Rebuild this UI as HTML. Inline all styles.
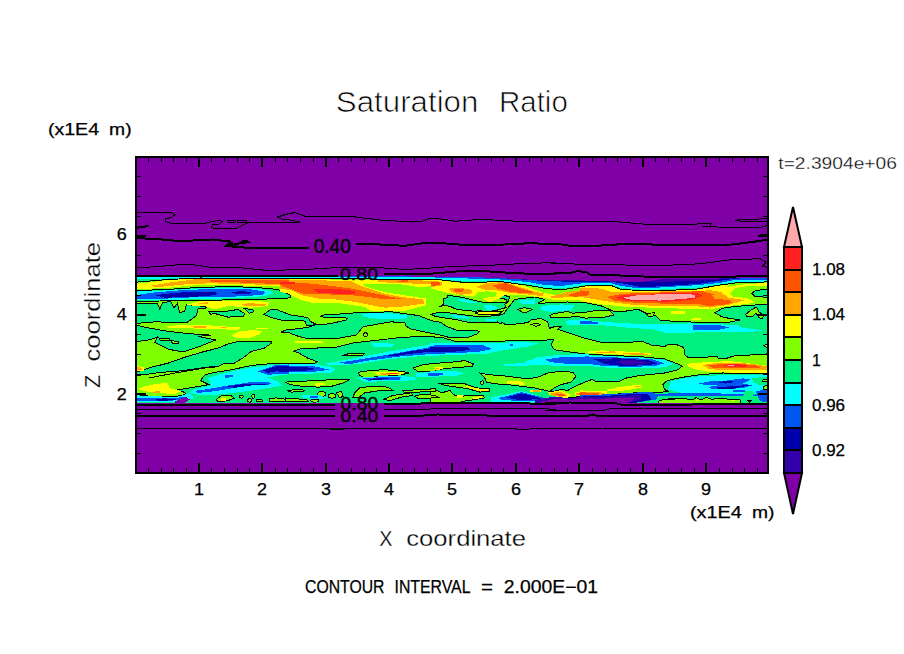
<!DOCTYPE html>
<html><head><meta charset="utf-8"><title>Saturation Ratio</title>
<style>html,body{margin:0;padding:0;background:#fff;width:904px;height:654px;overflow:hidden}body{font-family:"Liberation Sans",sans-serif;position:relative}</style></head>
<body>
<svg width="904" height="654" viewBox="0 0 904 654" style="position:absolute;left:0;top:0">
<rect x="0" y="0" width="904" height="654" fill="#fff"/>
<defs><clipPath id="pc"><rect x="136" y="157" width="632" height="316"/></clipPath></defs>
<g shape-rendering="crispEdges" clip-path="url(#pc)">
<rect x="135" y="156" width="634" height="318" fill="#8000A8"/>
<path d="M137.0 276.0 L767.0 276.0 L767.0 403.0 L137.0 403.0Z" fill="#80FF00"/>
<path d="M136.3 290.6 L168.2 289.4 L201.4 287.3 L234.6 286.6 L259.4 287.8 L277.7 289.4 L284.3 291.9 L290.1 295.2 L290.1 297.7 L285.0 298.5 L234.6 299.9 L201.4 300.2 L159.9 301.0 L136.3 301.5Z" fill="#00F080" stroke="#000" stroke-width="1"/>
<path d="M136.3 303.5 L157.4 303.2 L159.9 309.3 L162.4 302.7 L170.7 301.5 L174.0 307.7 L177.3 303.5 L179.8 312.7 L184.8 311.0 L186.4 304.4 L206.3 306.8 L205.5 308.5 L198.1 308.5 L196.4 315.5 L189.8 320.5 L186.4 322.8 L154.9 321.8 L136.3 323.4Z" fill="#00F080" stroke="#000" stroke-width="1"/>
<path d="M208.8 311.8 L214.6 311.5 L227.9 311.0 L237.9 309.5 L244.5 313.5 L243.7 316.5 L227.9 317.1 L214.6 313.5 L210.5 314.3Z" fill="#00F080" stroke="#000" stroke-width="1"/>
<path d="M244.5 308.8 L252.8 309.3 L253.6 311.8 L249.5 313.2Z" fill="#00F080" stroke="#000" stroke-width="1"/>
<path d="M136.3 325.1 L146.6 327.6 L168.2 331.4 L189.8 333.7 L210.5 335.1 L198.1 336.4 L215.5 340.0 L201.4 345.8 L183.1 352.0 L168.2 349.2 L154.9 342.5 L157.4 337.0 L149.9 339.7 L136.3 341.7Z" fill="#00F080" stroke="#000" stroke-width="1"/>
<path d="M136.3 372.3 L151.6 367.2 L168.2 363.1 L184.8 357.2 L201.4 352.3 L218.0 348.1 L227.9 344.0 L237.9 341.5 L271.1 341.5 L271.9 342.8 L264.4 348.1 L251.2 351.4 L242.9 358.1 L232.9 363.9 L224.6 363.1 L218.0 366.4 L206.3 367.2 L200.0 368.2 L182.5 370.7 L159.9 372.5 L145.0 374.5 L136.3 375.7Z" fill="#00F080" stroke="#000" stroke-width="1"/>
<path d="M263.8 314.4 L270.0 310.0 L277.5 309.8 L282.5 311.9 L292.5 315.6 L300.0 316.2 L308.8 318.1 L310.0 321.2 L315.0 323.8 L312.5 325.6 L306.2 325.0 L305.0 321.2 L296.2 320.0 L281.2 320.0 L271.2 317.5Z" fill="#00F080" stroke="#000" stroke-width="1"/>
<path d="M281.0 332.0 L286.0 330.0 L307.5 327.5 L315.0 325.0 L330.0 323.8 L346.0 320.0 L347.5 318.5 L344.0 317.2 L325.0 317.8 L321.0 316.2 L325.0 314.8 L332.5 314.4 L344.0 313.8 L353.0 313.0 L364.6 312.6 L391.0 311.8 L400.0 313.0 L418.8 315.6 L431.2 320.6 L441.2 322.5 L446.2 326.2 L456.2 330.0 L470.0 330.0 L480.0 331.2 L477.5 333.8 L469.0 337.0 L453.8 337.0 L447.5 337.0 L437.5 334.4 L425.0 332.0 L410.0 328.8 L406.0 326.0 L405.0 323.0 L391.0 321.8 L363.0 326.7 L360.5 330.0 L356.3 335.0 L340.0 338.0 L327.5 338.8 L305.0 338.0 L296.0 335.6 L290.0 333.0Z" fill="#00F080" stroke="#000" stroke-width="1"/>
<path d="M204.7 375.0 L214.6 372.3 L227.9 370.5 L251.1 365.5 L267.7 363.9 L290.0 363.8 L315.0 363.0 L317.5 361.9 L307.5 358.0 L298.8 353.0 L293.8 351.2 L302.5 348.0 L317.5 348.0 L335.0 347.5 L353.0 343.0 L371.5 340.8 L401.0 337.5 L412.5 336.9 L425.0 336.0 L443.8 338.0 L455.0 341.2 L476.5 341.5 L528.0 340.6 L553.6 339.8 L551.0 344.8 L554.4 349.8 L585.0 354.0 L618.0 355.8 L639.7 356.6 L664.6 359.0 L678.0 364.0 L682.0 366.3 L678.0 369.7 L664.6 373.0 L639.7 375.5 L626.5 378.0 L618.0 382.0 L603.0 381.3 L598.0 382.0 L591.6 379.6 L585.0 382.0 L576.0 386.0 L567.7 390.4 L561.0 389.5 L551.0 392.0 L549.4 391.2 L557.7 395.4 L567.7 397.9 L585.0 396.0 L610.0 394.5 L634.8 392.9 L651.3 392.0 L658.0 392.9 L668.0 391.2 L664.6 389.6 L663.0 384.6 L666.3 381.3 L671.3 379.6 L684.5 377.0 L701.0 374.6 L722.7 373.0 L770.0 373.8 L770.0 405.0 L134.0 405.0 L134.0 393.7 L145.0 395.9 L173.2 397.0 L186.4 394.2 L183.1 391.6 L174.8 390.4 L189.8 387.9 L208.8 384.6 L200.5 380.5Z" fill="#00F080" stroke="#000" stroke-width="1"/>
<path d="M440.6 306.2 L443.8 303.8 L443.8 298.8 L447.5 297.5 L447.5 295.6 L456.2 296.2 L465.0 298.0 L475.0 300.6 L485.0 302.5 L497.5 303.0 L507.5 301.9 L506.2 299.4 L500.0 298.0 L497.5 296.2 L501.2 295.0 L507.5 296.2 L509.6 296.9 L508.0 301.9 L504.7 304.3 L506.2 307.5 L497.5 310.0 L487.5 311.9 L480.0 310.6 L475.0 311.2 L465.0 310.6 L455.0 308.8 L450.0 306.2 L445.0 305.6Z" fill="#00F080" stroke="#000" stroke-width="1"/>
<path d="M431.2 314.4 L437.5 312.5 L450.0 313.0 L460.0 314.4 L470.0 315.6 L480.0 316.9 L487.5 316.2 L497.5 315.6 L503.8 313.8 L507.0 309.0 L509.6 306.0 L514.6 299.4 L534.5 296.9 L544.5 299.4 L537.8 303.5 L551.0 302.6 L567.7 302.0 L585.0 302.6 L601.6 306.0 L613.2 311.0 L626.5 311.0 L638.0 309.3 L646.4 313.5 L656.3 316.0 L659.6 320.0 L673.0 321.3 L691.0 322.0 L710.0 322.6 L730.0 322.0 L740.0 320.0 L725.0 317.6 L720.0 315.8 L715.0 312.6 L722.5 308.2 L735.0 306.4 L755.0 305.0 L770.0 304.0 L770.0 353.8 L750.0 355.0 L735.0 355.6 L725.0 358.8 L718.8 358.8 L717.0 356.5 L701.0 357.4 L688.8 358.0 L685.0 355.0 L683.8 347.5 L676.0 344.4 L668.0 344.2 L664.6 346.6 L651.3 345.0 L643.0 341.7 L618.0 342.5 L601.6 342.5 L585.0 338.3 L557.7 329.2 L561.0 326.7 L554.4 326.7 L549.4 328.4 L547.8 321.8 L541.0 318.4 L531.0 320.0 L527.9 322.6 L513.0 324.4 L506.0 325.0 L502.5 322.5 L500.0 323.8 L497.5 321.9 L490.0 323.0 L480.0 322.8 L467.5 322.2 L455.0 319.4 L441.2 317.5 L435.0 316.2Z" fill="#00F080" stroke="#000" stroke-width="1"/>
<path d="M751.9 293.2 L755.0 290.8 L763.8 289.5 L770.0 290.1 L770.0 297.6 L762.5 297.0 L755.0 296.4Z" fill="#00F080" stroke="#000" stroke-width="1"/>
<path d="M159.1 338.0 L169.0 338.4 L169.0 340.4 L159.9 340.0Z" fill="#80FF00" stroke="#000" stroke-width="1"/>
<path d="M170.7 340.7 L179.0 341.4 L178.5 343.3 L172.3 343.0Z" fill="#80FF00" stroke="#000" stroke-width="1"/>
<path d="M216.3 399.6 L221.3 395.7 L231.2 395.9 L234.6 398.2 L227.9 400.6 L218.0 401.9Z" fill="#80FF00" stroke="#000" stroke-width="1"/>
<ellipse cx="241.2" cy="396.6" rx="2.0" ry="1.5" fill="#80FF00" stroke="#000" stroke-width="1"/>
<ellipse cx="253.1" cy="396.2" rx="1.3" ry="2.2" fill="#80FF00" stroke="#000" stroke-width="1"/>
<ellipse cx="249.8" cy="400.4" rx="2.2" ry="1.7" fill="#80FF00" stroke="#000" stroke-width="1"/>
<ellipse cx="259.4" cy="400.7" rx="3.3" ry="1.3" fill="#80FF00" stroke="#000" stroke-width="1"/>
<path d="M269.4 398.7 L276.0 397.9 L285.0 399.2 L289.3 399.6 L289.3 402.0 L269.4 401.5Z" fill="#80FF00" stroke="#000" stroke-width="1"/>
<path d="M549.5 315.5 L554.5 313.5 L567.7 311.5 L572.7 313.2 L585.0 312.3 L598.3 310.2 L609.9 310.5 L614.0 315.1 L601.6 317.6 L585.0 318.1 L576.0 316.0 L567.7 317.6 L551.2 317.6Z" fill="#80FF00" stroke="#000" stroke-width="1"/>
<path d="M475.0 313.1 L480.0 311.2 L487.5 311.9 L500.0 311.9 L503.8 310.6 L498.8 314.4 L487.5 315.0 L480.0 314.4Z" fill="#80FF00" stroke="#000" stroke-width="1"/>
<path d="M518.0 309.3 L524.6 307.7 L532.1 309.3 L527.9 311.8 L522.9 312.7Z" fill="#80FF00" stroke="#000" stroke-width="1"/>
<path d="M531.2 324.3 L537.9 323.1 L540.4 324.8 L536.2 326.4Z" fill="#80FF00" stroke="#000" stroke-width="1"/>
<path d="M646.4 313.5 L654.7 312.7 L653.0 316.0 L648.1 316.0Z" fill="#80FF00" stroke="#000" stroke-width="1"/>
<path d="M745.6 314.5 L750.0 310.8 L755.0 307.6 L757.5 308.2 L758.8 312.0 L763.8 315.1 L762.5 318.9 L758.8 317.6 L756.2 313.2 L752.5 316.4 L747.5 317.0Z" fill="#80FF00" stroke="#000" stroke-width="1"/>
<path d="M763.8 345.8 L770.0 342.6 L770.0 349.2Z" fill="#80FF00" stroke="#000" stroke-width="1"/>
<path d="M358.0 372.2 L371.3 370.5 L384.6 369.7 L401.2 371.3 L409.4 373.0 L401.2 374.7 L384.6 376.3 L364.6 377.7 L359.7 375.5Z" fill="#80FF00" stroke="#000" stroke-width="1"/>
<path d="M412.8 368.0 L422.7 364.7 L435.0 363.4 L451.6 362.2 L464.9 360.6 L473.2 363.9 L472.3 366.4 L451.6 368.0 L435.0 369.7 L435.0 371.7 L417.7 371.3Z" fill="#80FF00" stroke="#000" stroke-width="1"/>
<path d="M342.2 355.8 L349.7 353.3 L364.6 353.6 L363.0 355.0 L351.4 355.8Z" fill="#80FF00" stroke="#000" stroke-width="1"/>
<ellipse cx="365.5" cy="334.7" rx="2.0" ry="2.0" fill="#80FF00" stroke="#000" stroke-width="1"/>
<path d="M479.8 373.0 L488.1 374.7 L501.4 375.5 L514.6 377.2 L527.9 378.8 L537.9 377.2 L547.8 373.0 L559.4 371.3 L572.7 372.2 L576.0 376.3 L571.1 382.1 L561.1 384.6 L554.5 387.9 L549.5 391.3 L534.6 387.9 L521.3 386.3 L508.0 384.6 L494.7 383.8 L486.4 382.1 L484.8 378.0Z" fill="#80FF00" stroke="#000" stroke-width="1"/>
<ellipse cx="482.3" cy="382.6" rx="1.7" ry="1.7" fill="#80FF00" stroke="#000" stroke-width="1"/>
<path d="M438.3 383.0 L464.9 383.8 L476.5 387.9 L489.8 388.8 L489.8 391.3 L479.8 392.1 L468.2 388.8 L445.0 385.5Z" fill="#80FF00" stroke="#000" stroke-width="1"/>
<path d="M430.0 389.6 L435.0 389.6 L441.6 392.9 L449.9 390.4 L453.3 394.6 L458.2 396.2 L483.1 395.4 L484.8 397.9 L474.8 399.6 L463.2 401.2 L461.5 402.0 L430.0 402.0Z" fill="#80FF00" stroke="#000" stroke-width="1"/>
<path d="M285.0 382.1 L301.6 381.3 L326.5 380.0 L349.7 379.3 L343.1 383.0 L331.5 386.3 L318.2 387.1 L301.6 386.3 L290.0 384.6Z" fill="#80FF00" stroke="#000" stroke-width="1"/>
<path d="M286.7 390.4 L301.6 389.3 L304.9 390.9 L291.6 392.1Z" fill="#80FF00" stroke="#000" stroke-width="1"/>
<ellipse cx="321.8" cy="393.9" rx="4.0" ry="2.3" fill="#80FF00" stroke="#000" stroke-width="1"/>
<ellipse cx="332.0" cy="395.9" rx="3.7" ry="2.2" fill="#80FF00" stroke="#000" stroke-width="1"/>
<ellipse cx="314.9" cy="400.6" rx="4.0" ry="1.5" fill="#80FF00" stroke="#000" stroke-width="1"/>
<path d="M285.0 397.9 L295.0 398.7 L306.6 399.6 L308.2 401.5 L285.0 402.0Z" fill="#80FF00" stroke="#000" stroke-width="1"/>
<path d="M336.4 392.9 L341.4 391.3 L343.1 396.2 L339.8 397.9Z" fill="#80FF00" stroke="#000" stroke-width="1"/>
<path d="M354.7 392.9 L359.7 387.9 L371.3 386.3 L387.9 387.1 L392.9 390.4 L377.9 390.9 L364.6 392.9 L358.0 397.9 L353.0 397.1Z" fill="#80FF00" stroke="#000" stroke-width="1"/>
<path d="M382.9 399.6 L392.9 395.4 L411.1 392.9 L412.8 395.4 L401.2 397.1 L391.2 400.4Z" fill="#80FF00" stroke="#000" stroke-width="1"/>
<path d="M402.8 390.9 L417.7 389.6 L435.0 388.8 L435.0 391.3 L417.7 392.1 L404.5 392.6Z" fill="#80FF00" stroke="#000" stroke-width="1"/>
<path d="M414.4 396.2 L422.7 394.2 L435.0 395.4 L439.3 397.9 L417.7 398.2Z" fill="#80FF00" stroke="#000" stroke-width="1"/>
<path d="M658.0 401.5 L664.6 399.1 L677.9 398.7 L667.5 400.0 L682.5 398.1 L692.5 400.0 L696.2 397.5 L701.2 400.0 L706.2 397.5 L712.5 399.4 L718.8 398.1 L730.0 399.4 L740.0 400.0 L741.2 403.1 L658.0 403.9Z" fill="#80FF00" stroke="#000" stroke-width="1"/>
<path d="M747.5 400.0 L751.9 400.0 L749.8 402.1Z" fill="#80FF00" stroke="#000" stroke-width="1"/>
<path d="M220.5 398.2 L226.3 398.2 L226.3 400.6 L220.5 400.6Z" fill="#FFFF00"/>
<path d="M136.3 283.9 L151.6 282.0 L168.2 280.0 L184.8 278.3 L201.4 277.5 L234.6 278.6 L289.3 279.5 L289.3 286.6 L267.7 286.1 L234.6 285.3 L201.4 284.9 L184.8 286.1 L168.2 287.8 L151.6 288.6 L136.3 288.9Z" fill="#FFFF00"/>
<path d="M184.8 305.2 L198.1 301.5 L218.0 300.5 L251.2 301.0 L269.4 301.9 L267.7 306.0 L251.2 307.7 L227.9 306.0 L214.6 309.3 L204.7 306.0Z" fill="#FFFF00"/>
<path d="M166.5 325.9 L184.8 325.1 L209.7 325.4 L241.2 327.6 L237.9 329.7 L209.7 329.2 L184.8 328.1 L168.2 328.1Z" fill="#FFFF00"/>
<path d="M231.2 335.9 L237.9 331.7 L251.2 330.1 L262.8 330.9 L259.4 334.2 L251.2 337.5 L237.9 338.4Z" fill="#FFFF00"/>
<path d="M256.1 328.1 L267.7 328.1 L267.7 329.2 L256.1 329.2Z" fill="#FFFF00"/>
<path d="M136.3 366.4 L144.1 366.7 L144.1 371.0 L136.3 371.0Z" fill="#FFFF00"/>
<path d="M145.0 386.3 L156.6 383.8 L168.2 383.0 L169.0 387.9 L181.5 391.3 L174.8 393.8 L159.9 393.3 L145.0 391.3 L138.3 388.8Z" fill="#FFFF00"/>
<path d="M476.2 313.1 L481.2 311.9 L497.5 312.5 L496.2 314.1 L481.2 314.1Z" fill="#FFFF00"/>
<path d="M374.6 372.2 L404.5 372.5 L401.2 374.7 L377.9 375.0Z" fill="#FFFF00"/>
<path d="M435.0 366.9 L442.5 367.2 L442.5 369.4 L435.0 369.7Z" fill="#FFFF00"/>
<path d="M506.3 381.6 L514.6 380.5 L524.6 382.1 L523.8 384.6 L508.0 384.3Z" fill="#FFFF00"/>
<path d="M529.6 389.6 L541.2 389.6 L541.2 392.1 L530.4 392.1Z" fill="#FFFF00"/>
<path d="M547.8 392.1 L561.1 390.9 L571.1 394.6 L567.7 397.9 L557.8 397.1 L549.5 394.9Z" fill="#FFFF00"/>
<path d="M574.4 392.1 L585.0 390.9 L587.7 396.2 L576.0 396.2Z" fill="#FFFF00"/>
<path d="M464.9 385.5 L476.5 388.3 L488.1 389.3 L488.1 390.9 L479.8 391.3 L468.2 387.9Z" fill="#FFFF00"/>
<path d="M456.6 395.4 L463.2 394.9 L463.2 397.9 L457.4 397.9Z" fill="#FFFF00"/>
<path d="M471.5 397.1 L481.5 396.2 L482.3 398.2 L473.2 399.2Z" fill="#FFFF00"/>
<path d="M314.0 383.8 L324.0 382.6 L324.8 385.0 L315.7 386.0Z" fill="#FFFF00"/>
<path d="M731.2 399.8 L735.0 399.8 L735.0 401.2 L731.2 401.2Z" fill="#FFFF00"/>
<path d="M696.2 400.0 L698.8 400.0 L698.8 401.2 L696.2 401.2Z" fill="#FFFF00"/>
<path d="M280.0 278.6 L359.7 280.0 L363.0 285.3 L371.3 288.6 L387.9 292.7 L426.0 298.5 L426.0 305.2 L404.5 311.0 L371.3 311.0 L364.6 306.8 L334.8 302.7 L314.9 303.5 L301.6 300.2 L288.3 293.6 L280.0 291.9Z" fill="#FFFF00"/>
<path d="M359.7 279.5 L439.3 279.5 L439.3 286.1 L417.7 286.9 L401.2 284.4 L377.9 283.6 L361.3 284.4Z" fill="#FFFF00"/>
<path d="M295.0 340.9 L323.2 340.9 L323.2 342.5 L295.0 342.5Z" fill="#FFFF00"/>
<path d="M431.2 279.5 L460.0 282.8 L487.5 280.9 L510.0 281.5 L522.5 285.2 L543.8 293.0 L555.0 294.9 L572.5 293.0 L586.2 291.8 L586.2 300.8 L572.5 299.9 L555.0 300.2 L543.8 297.8 L522.5 295.1 L505.0 295.1 L497.5 299.2 L490.0 302.4 L483.8 299.2 L485.0 297.8 L495.0 296.8 L497.5 292.8 L487.5 291.2 L477.5 292.5 L476.2 294.9 L472.5 296.8 L447.5 293.0 L431.2 288.6Z" fill="#FFFF00"/>
<path d="M580.0 286.1 L609.9 285.3 L619.8 289.9 L691.2 290.3 L727.7 284.4 L727.7 306.0 L717.7 307.7 L701.2 309.3 L677.9 308.5 L651.4 307.7 L626.5 306.8 L601.6 304.4 L580.0 301.0Z" fill="#FFFF00"/>
<path d="M671.3 311.0 L684.6 311.0 L684.6 314.3 L671.3 314.3Z" fill="#FFFF00"/>
<path d="M691.2 318.5 L701.2 318.5 L701.2 320.1 L691.2 320.1Z" fill="#FFFF00"/>
<path d="M588.3 351.6 L601.6 350.3 L626.5 351.6 L651.4 353.3 L651.4 355.3 L626.5 355.0 L601.6 353.6 L588.3 353.3Z" fill="#FFFF00"/>
<path d="M660.0 290.5 L710.0 289.5 L730.0 286.4 L747.5 283.9 L770.0 283.0 L770.0 286.0 L747.5 286.0 L735.0 288.2 L730.0 293.2 L732.5 296.4 L747.5 298.2 L755.0 302.0 L747.5 303.9 L730.0 305.8 L712.5 308.9 L691.2 307.6 L672.5 307.0 L660.0 308.2Z" fill="#FFFF00"/>
<path d="M672.5 311.4 L683.8 311.4 L683.8 313.9 L672.5 313.9Z" fill="#FFFF00"/>
<path d="M692.5 318.2 L701.2 318.2 L701.2 320.1 L692.5 320.1Z" fill="#FFFF00"/>
<path d="M686.2 363.8 L710.0 361.9 L730.0 361.2 L747.5 363.1 L770.0 366.2 L770.0 372.5 L747.5 372.5 L730.0 372.5 L710.0 371.9 L697.5 370.0 L688.8 366.9Z" fill="#FFFF00"/>
<path d="M606.6 389.6 L618.2 387.1 L639.8 384.6 L643.1 387.1 L626.5 390.4 L608.2 391.3Z" fill="#FFFF00"/>
<path d="M580.0 390.4 L606.6 391.3 L606.6 395.4 L580.0 395.9Z" fill="#FFFF00"/>
<path d="M151.6 285.6 L168.2 282.8 L193.1 279.5 L218.0 278.6 L289.3 279.5 L289.3 285.3 L267.7 284.9 L234.6 283.9 L209.7 283.3 L184.8 284.4 L168.2 286.1 L154.9 287.3Z" fill="#FFA500"/>
<path d="M241.2 303.9 L251.2 303.2 L266.1 304.4 L264.4 306.2 L244.5 306.2Z" fill="#FFA500"/>
<path d="M198.9 302.7 L208.0 302.4 L208.0 304.4 L199.7 304.4Z" fill="#FFA500"/>
<path d="M193.1 326.3 L206.3 325.9 L206.3 327.6 L193.9 327.8Z" fill="#FFA500"/>
<path d="M221.3 326.8 L226.3 326.8 L226.3 327.8 L221.3 327.8Z" fill="#FFA500"/>
<path d="M136.3 367.2 L141.6 367.7 L141.6 369.7 L136.3 370.0Z" fill="#FFA500"/>
<path d="M153.3 391.6 L159.9 391.3 L159.9 392.9 L153.3 392.9Z" fill="#FFA500"/>
<path d="M379.6 372.7 L401.2 372.7 L399.5 374.3 L381.2 374.7Z" fill="#FFA500"/>
<path d="M435.0 367.7 L438.7 367.7 L438.7 368.9 L435.0 369.0Z" fill="#FFA500"/>
<path d="M532.9 390.4 L539.5 390.4 L539.5 391.6 L532.9 391.6Z" fill="#FFA500"/>
<path d="M549.5 392.9 L561.1 392.1 L567.7 395.4 L561.1 397.1 L551.2 395.4Z" fill="#FFA500"/>
<path d="M576.0 392.9 L585.0 392.1 L587.7 395.4 L576.0 395.4Z" fill="#FFA500"/>
<path d="M280.0 279.5 L318.2 280.3 L351.4 281.1 L359.7 285.3 L371.3 289.4 L384.6 293.6 L401.2 296.9 L422.7 299.4 L424.4 303.5 L401.2 306.8 L384.6 307.7 L371.3 305.2 L354.7 301.9 L334.8 299.4 L318.2 298.5 L301.6 295.2 L291.6 290.3 L280.0 288.6Z" fill="#FFA500"/>
<path d="M377.9 280.3 L417.7 280.3 L439.3 281.1 L439.3 284.4 L417.7 283.9 L401.2 282.8 L377.9 282.3Z" fill="#FFA500"/>
<path d="M431.2 280.5 L442.5 282.0 L441.2 285.5 L431.2 287.0Z" fill="#FFA500"/>
<path d="M448.8 288.6 L460.0 287.8 L472.5 289.9 L471.2 293.6 L460.0 294.9 L451.2 291.8Z" fill="#FFA500"/>
<path d="M476.2 286.8 L487.5 283.0 L505.0 282.1 L515.0 285.5 L535.0 291.8 L543.8 293.2 L542.5 296.1 L522.5 293.9 L510.0 293.0 L497.5 290.5 L485.0 289.9Z" fill="#FFA500"/>
<path d="M549.5 296.9 L567.7 291.9 L589.3 289.4 L589.3 296.9 L567.7 296.9 L554.5 298.5Z" fill="#FFA500"/>
<path d="M580.0 287.8 L601.6 288.6 L611.5 291.9 L651.4 291.9 L692.9 291.1 L711.1 290.3 L726.0 295.2 L731.0 300.2 L724.4 304.4 L701.2 306.0 L668.0 306.0 L634.8 305.2 L609.9 301.9 L580.0 296.9Z" fill="#FFA500"/>
<path d="M595.0 352.0 L614.9 351.3 L616.5 353.3 L596.6 353.3Z" fill="#FFA500"/>
<path d="M623.2 353.0 L648.1 353.6 L648.1 355.0 L623.2 354.3Z" fill="#FFA500"/>
<path d="M660.0 291.0 L707.5 290.5 L722.5 292.0 L720.0 297.0 L737.5 298.9 L745.0 300.1 L730.0 304.5 L710.0 307.6 L691.2 305.8 L672.5 305.1 L660.0 306.4Z" fill="#FFA500"/>
<path d="M702.5 365.0 L716.2 363.1 L735.0 362.5 L755.0 364.4 L770.0 366.9 L770.0 370.6 L747.5 370.0 L730.0 370.0 L710.0 369.4Z" fill="#FFA500"/>
<path d="M634.8 385.5 L641.4 385.5 L641.4 387.1 L634.8 387.1Z" fill="#FFA500"/>
<path d="M580.0 391.6 L603.3 392.6 L604.1 394.9 L580.0 395.6Z" fill="#FFA500"/>
<path d="M208.0 280.6 L234.6 279.5 L289.3 280.0 L289.3 283.9 L267.7 283.6 L234.6 282.3 L211.3 281.6Z" fill="#FF5500"/>
<path d="M386.2 372.7 L399.5 372.5 L397.8 374.0 L387.9 374.0Z" fill="#FF5500"/>
<path d="M554.5 393.8 L562.8 393.8 L566.1 395.9 L559.4 396.2Z" fill="#FF5500"/>
<path d="M579.4 393.4 L586.0 392.9 L586.8 394.9 L579.4 394.9Z" fill="#FF5500"/>
<path d="M280.0 282.0 L301.6 282.8 L326.5 285.3 L351.4 288.6 L371.3 292.7 L391.2 296.9 L401.2 298.5 L384.6 299.4 L368.0 296.9 L351.4 295.2 L326.5 294.4 L304.9 294.4 L298.3 291.9 L280.0 285.3Z" fill="#FF5500"/>
<path d="M397.8 280.6 L407.8 280.3 L407.8 282.0 L397.8 282.0Z" fill="#FF5500"/>
<path d="M431.0 282.0 L439.3 282.0 L439.3 285.3 L431.0 285.3Z" fill="#FF5500"/>
<path d="M431.2 281.5 L440.0 282.5 L439.4 285.0 L431.2 286.2Z" fill="#FF5500"/>
<path d="M453.8 289.5 L463.8 289.2 L463.1 291.5 L455.0 291.8Z" fill="#FF5500"/>
<path d="M492.5 285.5 L505.0 283.0 L512.5 285.5 L522.5 289.2 L535.0 292.4 L522.5 293.0 L510.0 291.8 L497.5 288.6Z" fill="#FF5500"/>
<path d="M567.7 295.2 L577.7 291.9 L589.3 290.6 L589.3 295.2 L574.4 296.9Z" fill="#FF5500"/>
<path d="M580.0 290.3 L591.6 291.9 L580.0 294.4Z" fill="#FF5500"/>
<path d="M606.6 296.9 L623.2 293.6 L692.9 292.7 L711.1 293.6 L714.4 298.5 L701.2 303.5 L668.0 303.5 L634.8 302.7 L614.9 301.0Z" fill="#FF5500"/>
<path d="M660.0 291.8 L703.8 291.4 L713.8 294.5 L707.5 298.2 L730.0 300.1 L732.5 302.6 L722.5 305.1 L707.5 305.8 L695.0 303.2 L672.5 303.2 L660.0 304.5Z" fill="#FF5500"/>
<path d="M707.5 365.6 L722.5 363.8 L737.5 363.5 L757.5 365.6 L760.0 367.5 L747.5 368.1 L730.0 368.1 L712.5 367.5Z" fill="#FF5500"/>
<path d="M580.0 392.3 L598.3 392.9 L599.1 394.6 L580.0 395.1Z" fill="#FF5500"/>
<path d="M389.5 372.8 L397.8 372.8 L397.0 373.7 L390.4 373.7Z" fill="#FF2020"/>
<path d="M313.2 289.4 L334.8 288.6 L354.7 291.1 L354.7 293.6 L334.8 293.6 L318.2 292.7Z" fill="#FF2020"/>
<path d="M280.0 282.0 L295.0 282.3 L295.0 283.9 L280.0 283.9Z" fill="#FF2020"/>
<path d="M614.9 297.7 L624.8 294.9 L692.9 293.9 L699.5 296.9 L691.2 300.2 L651.4 301.5 L626.5 300.5Z" fill="#FF2020"/>
<path d="M720.0 365.0 L735.0 364.0 L747.5 365.0 L746.2 366.5 L730.0 366.9Z" fill="#FF2020"/>
<path d="M657.5 292.6 L697.5 292.6 L702.5 295.8 L695.0 298.9 L672.5 301.4 L657.5 302.0Z" fill="#FF2020"/>
<path d="M623.2 297.7 L639.8 294.9 L677.9 293.9 L694.5 295.2 L694.5 297.7 L677.9 299.4 L651.4 300.5 L631.5 299.9Z" fill="#FFAAAA"/>
<path d="M727.5 365.0 L733.8 365.0 L733.8 366.0 L727.5 366.0Z" fill="#FFAAAA"/>
<path d="M657.5 293.9 L691.2 293.9 L695.0 295.8 L691.2 297.6 L672.5 299.5 L657.5 300.8Z" fill="#FFAAAA"/>
<path d="M136.3 291.6 L168.2 290.3 L201.4 288.3 L234.6 287.6 L257.8 288.6 L271.1 291.1 L272.7 293.6 L264.4 296.1 L234.6 298.2 L201.4 299.0 L159.9 300.2 L136.3 300.5Z" fill="#00FFFF"/>
<path d="M208.0 378.0 L221.3 373.8 L230.0 371.9 L248.8 367.8 L267.5 365.4 L305.0 364.8 L330.0 366.5 L336.2 370.0 L317.5 373.0 L282.5 374.8 L267.5 377.5 L277.5 381.2 L282.5 385.6 L267.5 388.1 L255.0 390.0 L242.5 391.9 L230.0 393.1 L218.0 394.6 L201.4 395.4 L189.8 392.9 L193.1 389.6 L211.3 385.5Z" fill="#00FFFF"/>
<path d="M136.3 395.4 L176.5 397.1 L189.8 392.9 L194.7 397.9 L184.8 401.5 L136.3 401.5Z" fill="#00FFFF"/>
<path d="M361.3 314.3 L371.3 313.2 L391.2 313.5 L407.8 315.5 L401.2 318.5 L377.9 318.8 L364.6 317.1Z" fill="#00FFFF"/>
<path d="M400.0 315.0 L406.2 315.6 L407.5 318.1 L400.0 319.4Z" fill="#00FFFF"/>
<path d="M457.5 298.8 L465.0 299.4 L475.0 301.9 L480.0 303.5 L470.0 303.1 L460.0 301.2Z" fill="#00FFFF"/>
<path d="M482.5 305.6 L490.0 305.0 L497.5 306.9 L496.2 309.4 L487.5 309.8Z" fill="#00FFFF"/>
<path d="M280.0 363.6 L318.2 364.4 L334.8 369.7 L331.5 373.0 L301.6 373.8 L280.0 374.3Z" fill="#00FFFF"/>
<path d="M323.2 363.9 L351.4 358.9 L384.6 352.3 L417.7 346.5 L439.3 343.5 L439.3 355.6 L417.7 356.4 L384.6 359.7 L359.7 363.9 L334.8 365.5Z" fill="#00FFFF"/>
<path d="M371.3 343.5 L384.6 342.8 L394.5 344.5 L391.2 347.3 L374.6 346.8Z" fill="#00FFFF"/>
<path d="M356.3 378.0 L384.6 376.0 L414.4 376.7 L416.1 379.6 L401.2 381.3 L364.6 381.6Z" fill="#00FFFF"/>
<path d="M414.4 373.0 L439.3 371.7 L439.3 376.7 L417.7 377.2Z" fill="#00FFFF"/>
<path d="M301.6 395.4 L318.2 394.9 L328.1 397.9 L318.2 399.2 L303.3 397.9Z" fill="#00FFFF"/>
<path d="M430.0 343.5 L484.8 342.8 L527.9 342.3 L537.9 343.5 L527.9 346.5 L501.4 350.6 L484.8 353.9 L430.0 355.6Z" fill="#00FFFF"/>
<path d="M524.6 362.2 L537.9 357.2 L561.1 354.8 L589.3 353.9 L589.3 366.4 L551.2 365.5 L527.9 364.7Z" fill="#00FFFF"/>
<path d="M503.0 363.9 L527.9 363.1 L527.9 365.5 L504.7 365.7Z" fill="#00FFFF"/>
<path d="M430.0 370.5 L454.9 371.0 L464.9 373.0 L454.9 376.0 L430.0 376.7Z" fill="#00FFFF"/>
<path d="M491.4 397.1 L509.7 393.8 L521.3 390.9 L534.6 394.6 L542.9 397.9 L541.2 401.5 L491.4 401.5Z" fill="#00FFFF"/>
<path d="M580.0 319.3 L601.6 321.8 L626.5 323.4 L659.7 324.3 L691.2 323.4 L739.3 325.1 L739.3 330.9 L691.2 332.6 L668.0 333.4 L651.4 329.2 L626.5 327.6 L601.6 325.1 L580.0 325.1Z" fill="#00FFFF"/>
<path d="M660.0 327.0 L672.5 324.5 L691.2 323.9 L710.0 324.5 L730.0 325.8 L747.5 328.2 L763.8 330.8 L747.5 332.0 L710.0 332.0 L672.5 333.2 L663.8 332.0Z" fill="#00FFFF"/>
<path d="M519.6 300.2 L534.6 299.4 L534.6 303.5 L521.3 304.4Z" fill="#00FFFF"/>
<path d="M541.2 306.0 L561.1 304.4 L574.4 305.2 L571.1 310.2 L551.2 311.8 L541.2 310.2Z" fill="#00FFFF"/>
<path d="M450.0 315.0 L460.0 315.6 L470.0 316.9 L467.5 318.5 L455.0 317.5Z" fill="#00FFFF"/>
<path d="M485.0 318.5 L497.5 319.0 L496.2 320.8 L486.2 320.5Z" fill="#00FFFF"/>
<path d="M564.4 320.9 L585.0 319.3 L589.3 321.8 L585.0 325.1 L567.7 324.8Z" fill="#00FFFF"/>
<path d="M580.0 355.0 L618.2 356.6 L639.8 357.5 L664.6 359.9 L672.9 364.1 L664.6 367.4 L634.8 368.2 L601.6 367.4 L580.0 364.9Z" fill="#00FFFF"/>
<path d="M668.0 389.6 L671.3 381.3 L684.6 378.0 L701.2 376.0 L730.0 375.0 L770.0 374.8 L770.0 395.0 L747.5 396.2 L710.0 395.0 L685.0 393.8 L670.0 390.0Z" fill="#00FFFF"/>
<path d="M136.3 295.2 L151.6 292.7 L184.8 289.9 L218.0 288.9 L251.2 289.4 L266.1 291.9 L262.8 294.9 L234.6 296.6 L201.4 296.9 L168.2 298.5 L145.0 299.4 L136.3 298.5Z" fill="#0055F0"/>
<path d="M194.7 390.9 L209.7 388.8 L227.9 385.5 L251.2 382.1 L272.7 382.6 L267.7 385.0 L251.2 385.5 L234.6 387.9 L214.6 391.3 L198.1 392.9Z" fill="#0055F0"/>
<path d="M257.8 371.3 L274.4 365.5 L289.3 364.4 L289.3 373.8 L267.7 374.7Z" fill="#0055F0"/>
<path d="M224.6 375.5 L232.9 375.0 L233.2 377.3 L225.4 377.7Z" fill="#0055F0"/>
<path d="M136.3 397.9 L168.2 398.2 L184.8 397.1 L183.1 400.4 L136.3 400.9Z" fill="#0055F0"/>
<path d="M280.0 365.5 L314.9 366.4 L329.8 369.7 L314.9 371.7 L280.0 372.7Z" fill="#0055F0"/>
<path d="M336.4 363.1 L368.0 358.1 L401.2 352.3 L439.3 345.6 L439.3 353.4 L401.2 356.4 L368.0 360.6 L351.4 363.9Z" fill="#0055F0"/>
<path d="M363.0 378.3 L384.6 377.0 L401.2 377.3 L399.5 379.6 L368.0 380.6Z" fill="#0055F0"/>
<path d="M427.7 373.0 L439.3 372.7 L439.3 375.5 L427.7 375.5Z" fill="#0055F0"/>
<path d="M309.9 396.2 L318.2 396.2 L318.2 397.6 L309.9 397.6Z" fill="#0055F0"/>
<path d="M430.0 345.6 L481.5 344.5 L492.2 348.9 L481.5 351.4 L459.9 353.1 L430.0 353.9Z" fill="#0055F0"/>
<path d="M509.7 344.0 L513.0 344.0 L513.0 345.6 L509.7 345.6Z" fill="#0055F0"/>
<path d="M544.5 359.7 L561.1 357.2 L589.3 356.4 L589.3 363.9 L567.7 363.9 L551.2 362.2Z" fill="#0055F0"/>
<path d="M430.0 373.0 L442.5 373.0 L442.5 375.0 L430.0 375.0Z" fill="#0055F0"/>
<path d="M498.1 397.9 L509.7 395.4 L521.3 392.1 L534.6 395.4 L547.8 398.7 L541.2 400.4 L518.0 401.2 L501.4 399.6Z" fill="#0055F0"/>
<path d="M580.0 320.9 L598.3 321.8 L598.3 323.8 L580.0 323.8Z" fill="#0055F0"/>
<path d="M692.9 325.1 L717.7 324.8 L729.4 327.6 L717.7 330.1 L692.9 330.4Z" fill="#0055F0"/>
<path d="M692.5 325.8 L707.5 325.1 L730.0 327.6 L720.0 329.5 L695.0 330.1Z" fill="#0055F0"/>
<path d="M580.0 356.6 L618.2 357.5 L651.4 359.1 L664.6 363.3 L654.7 366.2 L626.5 366.9 L601.6 365.8 L580.0 362.4Z" fill="#0055F0"/>
<path d="M655.0 393.8 L685.0 393.1 L710.0 393.5 L747.5 394.4 L770.0 393.8 L770.0 396.2 L655.0 396.2Z" fill="#0055F0"/>
<path d="M757.5 395.0 L770.0 393.8 L770.0 402.5 L760.0 401.2Z" fill="#0055F0"/>
<path d="M580.0 395.4 L609.9 394.2 L634.8 392.6 L651.4 391.8 L658.0 395.4 L656.3 399.6 L634.8 402.9 L580.0 402.9Z" fill="#0055F0"/>
<path d="M154.9 295.2 L176.5 292.7 L204.7 291.6 L218.0 292.7 L214.6 295.2 L193.1 296.9 L164.9 297.7Z" fill="#0000AA"/>
<path d="M231.2 292.2 L241.2 291.1 L251.2 291.9 L249.5 293.9 L237.9 294.4Z" fill="#0000AA"/>
<path d="M227.9 386.6 L241.2 384.3 L264.4 383.5 L266.1 384.6 L251.2 385.5 L234.6 387.9Z" fill="#0000AA"/>
<path d="M262.8 370.5 L276.0 366.4 L289.3 365.5 L289.3 372.2 L276.0 371.3 L267.7 373.0Z" fill="#0000AA"/>
<path d="M154.9 398.7 L166.5 398.4 L176.5 399.6 L164.9 400.9 L156.6 400.6Z" fill="#0000AA"/>
<path d="M280.0 367.2 L306.6 367.2 L316.5 368.9 L306.6 370.5 L280.0 371.3Z" fill="#0000AA"/>
<path d="M387.9 355.6 L409.4 351.4 L439.3 347.5 L439.3 350.8 L409.4 353.9 L392.9 356.4Z" fill="#0000AA"/>
<path d="M368.0 378.7 L384.6 378.0 L391.2 379.0 L371.3 380.1Z" fill="#0000AA"/>
<path d="M430.0 347.3 L468.2 347.3 L469.8 349.8 L459.9 351.4 L430.0 352.3Z" fill="#0000AA"/>
<path d="M506.3 397.6 L521.3 393.3 L534.6 396.2 L542.9 399.2 L518.0 399.9Z" fill="#0000AA"/>
<path d="M593.3 359.1 L618.2 358.3 L648.1 360.3 L658.0 363.3 L648.1 365.3 L621.5 365.8 L604.9 364.1Z" fill="#0000AA"/>
<path d="M580.0 396.6 L609.9 395.6 L634.8 393.9 L648.1 393.9 L651.4 399.6 L634.8 402.9 L580.0 402.9Z" fill="#0000AA"/>
<path d="M534.6 399.9 L551.2 397.1 L572.7 397.9 L589.3 396.2 L589.3 403.7 L534.6 403.7Z" fill="#3300AA"/>
<path d="M614.9 360.8 L634.8 359.9 L651.4 362.4 L643.1 364.6 L623.2 364.6Z" fill="#3300AA"/>
<path d="M580.0 397.6 L601.6 397.1 L626.5 395.9 L641.4 394.9 L641.4 399.6 L624.8 403.2 L580.0 403.2Z" fill="#3300AA"/>
<path d="M174.8 401.2 L186.4 397.1 L189.8 399.6 L184.8 402.9 L174.8 403.2Z" fill="#8000A8"/>
<path d="M541.2 401.5 L554.5 399.2 L572.7 399.6 L589.3 398.7 L589.3 403.7 L541.2 403.7Z" fill="#8000A8"/>
<path d="M580.0 399.2 L601.6 398.7 L626.5 397.6 L634.8 397.9 L631.5 401.2 L624.8 403.7 L580.0 403.7Z" fill="#8000A8"/>
<path d="M751.9 378.3 L759.0 377.4 L767.9 376.9 L767.9 385.8 L760.8 385.4 L753.7 382.7Z" fill="#00F080"/>
<path d="M744.9 391.5 L751.9 390.7 L755.5 394.2 L751.9 396.0 L743.1 395.5Z" fill="#00F080"/>
<path d="M694.4 393.1 L707.7 392.6 L721.0 393.5 L720.1 394.7 L695.3 394.6Z" fill="#0055F0"/>
<path d="M732.5 390.2 L744.9 390.0 L744.9 391.5 L732.5 391.5Z" fill="#0055F0"/>
<path d="M755.5 390.7 L767.9 390.2 L767.9 394.2 L757.3 394.2Z" fill="#0055F0"/>
<path d="M698.8 383.6 L712.1 380.9 L727.2 380.5 L743.1 378.3 L750.2 379.6 L743.1 383.6 L751.9 385.4 L743.1 388.0 L725.4 389.3 L712.1 388.9 L707.7 387.1 L721.0 384.9 L703.3 384.5Z" fill="#0055F0"/>
<path d="M718.3 382.3 L727.2 380.9 L736.0 381.8 L725.4 383.6Z" fill="#0000AA"/>
<path d="M715.7 387.6 L734.2 385.8 L750.2 385.2 L734.2 388.5 L719.2 389.1Z" fill="#0000AA"/>
<path d="M762.6 380.0 L767.9 379.9 L767.9 381.5 L763.0 381.5Z" fill="#80FF00" stroke="#000" stroke-width="1"/>
<path d="M763.5 386.2 L767.9 385.5 L767.9 389.4 L763.9 389.1Z" fill="#80FF00" stroke="#000" stroke-width="1"/>
<path d="M149.1 378.0 L168.2 374.3 L184.8 371.3 L204.7 368.0 L214.6 367.7" fill="none" stroke="#000" stroke-width="1"/>
<path d="M134.0 270.0 L770.0 270.0 L770.0 281.8 L735.0 283.0 L719.0 285.2 L697.0 289.0 L660.0 290.8 L640.0 290.5 L621.0 289.4 L610.0 285.0 L585.0 286.0 L561.0 290.0 L545.0 288.3 L528.0 285.3 L500.0 281.5 L468.0 282.8 L435.0 279.3 L285.0 278.6 L200.0 278.0 L168.0 279.5 L134.0 282.3Z" fill="#00F080"/>
<path d="M134.0 270.0 L770.0 270.0 L770.0 281.4 L735.0 282.0 L719.0 284.5 L697.0 287.6 L660.0 289.5 L640.0 289.5 L621.0 288.0 L610.0 284.5 L585.0 285.0 L561.0 288.5 L545.0 287.5 L528.0 284.5 L500.0 281.0 L468.0 281.5 L435.0 279.0 L285.0 278.3 L200.0 277.5 L168.0 278.5 L134.0 279.5Z" fill="#00FFFF"/>
<path d="M134.0 270.0 L770.0 270.0 L770.0 279.5 L735.0 280.0 L719.0 283.0 L697.0 285.2 L660.0 287.5 L640.0 288.5 L621.0 286.0 L610.0 283.0 L585.0 283.0 L561.0 286.0 L545.0 285.0 L528.0 282.0 L500.0 279.5 L468.0 278.5 L435.0 277.5 L285.0 277.0 L200.0 276.5 L168.0 276.5 L134.0 277.0Z" fill="#0055F0"/>
<path d="M134.0 270.0 L770.0 270.0 L770.0 278.0 L735.0 278.6 L719.0 281.0 L697.0 284.0 L660.0 286.4 L640.0 287.0 L621.0 283.0 L610.0 282.0 L585.0 281.5 L561.0 281.5 L545.0 281.0 L528.0 280.0 L500.0 278.0 L468.0 277.0 L435.0 276.6 L285.0 276.0 L200.0 275.5 L168.0 275.0 L134.0 275.0Z" fill="#0000AA"/>
<path d="M134.0 270.0 L770.0 270.0 L770.0 278.0 L735.0 278.3 L719.0 279.5 L697.0 280.8 L660.0 282.0 L640.0 282.5 L621.0 282.0 L610.0 281.5 L585.0 281.0 L561.0 281.0 L545.0 281.0 L528.0 280.0 L500.0 278.0 L468.0 277.0 L435.0 276.6 L285.0 276.0 L200.0 275.5 L168.0 275.0 L134.0 275.0Z" fill="#3300AA"/>
<path d="M134.0 403.0 L770.0 403.0 L770.0 475.0 L134.0 475.0Z" fill="#8000A8"/>
<path d="M134.0 270.0 L770.0 270.0 L770.0 278.0 L735.0 278.0 L719.0 278.5 L697.0 279.0 L660.0 279.5 L640.0 282.0 L621.0 281.5 L610.0 281.0 L585.0 280.5 L561.0 280.0 L545.0 280.0 L528.0 279.5 L500.0 278.0 L468.0 277.0 L435.0 276.6 L285.0 276.0 L200.0 275.5 L168.0 275.0 L134.0 275.0Z" fill="#8000A8"/>
<path d="M134.0 282.3 L168.0 279.5 L200.0 278.0 L285.0 278.6 L435.0 279.3 L468.0 282.8 L500.0 281.5 L528.0 285.3 L545.0 288.3 L561.0 290.0 L585.0 286.0 L610.0 285.0 L621.0 289.4 L640.0 290.5 L660.0 290.8 L697.0 289.0 L719.0 285.2 L735.0 283.0 L770.0 281.8" fill="none" stroke="#000" stroke-width="1"/>
<path d="M330.0 216.2 L355.0 217.0 L380.0 220.0 L412.5 222.0 L422.5 221.2 L430.0 218.2 L440.0 218.8 L455.0 221.2 L480.0 219.5 L505.0 220.5 L530.0 222.0 L556.0 221.2" fill="none" stroke="#000" stroke-width="1"/>
<path d="M545.0 221.2 L620.0 222.0 L645.0 224.2 L685.0 225.0 L700.0 223.8 L711.2 223.8 L710.0 226.2 L702.5 226.5 L745.0 228.0 L762.5 227.0 L768.0 224.5" fill="none" stroke="#000" stroke-width="1"/>
<path d="M768.0 218.8 L737.5 219.5 L736.2 220.5 L745.0 221.8 L768.0 221.2" fill="none" stroke="#000" stroke-width="1"/>
<path d="M338.8 267.2 L377.5 267.5 L405.0 269.5 L430.0 268.0 L455.0 266.2 L480.0 265.8 L517.5 263.8 L556.0 262.5" fill="none" stroke="#000" stroke-width="1"/>
<path d="M545.0 262.5 L560.0 263.8 L607.5 264.5 L655.0 265.8 L700.0 263.8 L732.5 259.5 L760.0 258.8 L766.2 262.0 L762.5 266.2 L768.0 267.5" fill="none" stroke="#000" stroke-width="1"/>
<path d="M135.0 409.2 L335.0 409.2" fill="none" stroke="#000" stroke-width="1"/>
<path d="M383.8 409.2 L480.0 408.8 L517.5 408.2 L556.0 409.2" fill="none" stroke="#000" stroke-width="1"/>
<path d="M545.0 410.0 L605.0 410.0 L610.0 408.8 L645.0 408.0 L768.0 408.0" fill="none" stroke="#000" stroke-width="1"/>
<path d="M135.0 428.8 L190.0 428.8 L192.5 428.0 L325.0 428.0 L330.0 428.8 L356.0 428.8" fill="none" stroke="#000" stroke-width="1"/>
<path d="M330.0 429.5 L350.0 428.8 L515.0 428.2 L517.5 429.5 L556.0 428.0" fill="none" stroke="#000" stroke-width="1"/>
<path d="M545.0 428.0 L582.5 428.8 L597.5 428.8 L602.5 428.0 L768.0 428.0" fill="none" stroke="#000" stroke-width="1"/>
<path d="M135.0 212.0 L170.0 212.0 L175.0 214.5 L171.2 217.5 L165.0 218.8 L165.0 221.2 L172.5 223.8 L202.5 223.8 L210.0 222.0 L217.5 220.5 L222.5 221.2 L220.0 223.8 L212.5 225.0 L211.2 227.5 L215.0 228.8 L235.0 228.8 L247.5 223.0 L260.0 222.5 L280.0 223.0 L300.0 222.0 L290.0 220.0 L280.0 218.8 L277.5 217.0 L285.0 214.5 L295.0 212.5 L305.0 216.2 L320.0 217.0 L356.0 216.2" fill="none" stroke="#000" stroke-width="1"/>
<path d="M227.5 220.8 L235.0 220.2 L235.0 222.0 L228.0 222.2Z" fill="none" stroke="#000" stroke-width="1"/>
<path d="M237.5 221.0 L246.2 220.8 L246.2 222.5 L238.0 222.5Z" fill="none" stroke="#000" stroke-width="1"/>
<path d="M135.0 227.5 L148.8 225.5 L145.0 227.0 L135.0 228.8" fill="none" stroke="#000" stroke-width="1"/>
<path d="M135.0 268.0 L162.5 266.2 L180.0 264.5 L195.0 265.0 L212.5 267.5 L242.5 268.0 L262.5 270.0 L285.0 270.0 L320.0 268.8 L338.0 267.5" fill="none" stroke="#000" stroke-width="1"/>
<path d="M356.2 243.8 L380.0 244.5 L405.0 245.8 L425.0 243.0 L440.0 243.0 L465.0 245.0 L505.0 244.5 L530.0 243.2 L556.0 244.2" fill="none" stroke="#000" stroke-width="2"/>
<path d="M545.0 244.5 L557.5 243.8 L572.5 246.2 L590.0 246.2 L627.5 243.8 L670.0 245.0 L732.5 244.5 L752.5 242.0 L768.0 239.5" fill="none" stroke="#000" stroke-width="2"/>
<path d="M760.0 235.5 L768.0 235.0" fill="none" stroke="#000" stroke-width="2"/>
<path d="M383.8 274.5 L430.0 273.8 L460.0 271.2 L480.0 270.8 L505.0 272.5 L530.0 273.8 L556.0 273.8" fill="none" stroke="#000" stroke-width="2"/>
<path d="M545.0 273.8 L570.0 273.0 L577.5 271.2 L586.2 272.0 L590.0 274.5 L620.0 275.5 L655.0 277.0 L685.0 277.5 L720.0 277.0 L768.0 275.5" fill="none" stroke="#000" stroke-width="2"/>
<path d="M135.0 404.5 L335.0 404.5" fill="none" stroke="#000" stroke-width="2"/>
<path d="M383.8 403.8 L485.0 403.0 L556.0 403.8" fill="none" stroke="#000" stroke-width="2"/>
<path d="M545.0 403.0 L570.0 402.5 L615.0 403.0 L625.0 405.5 L640.0 405.0 L768.0 403.8" fill="none" stroke="#000" stroke-width="2"/>
<path d="M135.0 415.8 L335.0 415.8" fill="none" stroke="#000" stroke-width="2"/>
<path d="M383.8 415.5 L415.0 416.2 L437.5 414.5 L485.0 415.0 L490.0 416.2 L556.0 416.2" fill="none" stroke="#000" stroke-width="2"/>
<path d="M545.0 415.8 L587.5 415.8 L592.5 414.5 L597.5 415.8 L768.0 415.5" fill="none" stroke="#000" stroke-width="2"/>
<path d="M135.0 236.2 L145.0 236.5" fill="none" stroke="#000" stroke-width="2"/>
<path d="M135.0 238.2 L155.0 238.8 L180.0 241.2 L202.5 240.0 L212.5 239.5 L230.0 241.5 L226.2 246.0 L247.5 247.8 L308.8 248.0" fill="none" stroke="#000" stroke-width="2"/>
<path d="M223.8 246.2 L230.0 241.5 L233.8 241.5 L232.5 244.0 L240.0 242.0 L242.5 239.5 L247.5 240.0 L251.2 243.0 L240.0 244.2 L235.0 246.5Z" fill="#000"/>
<path d="M135.0 275.5 L230.0 275.5 L292.5 276.2 L338.0 276.2" fill="none" stroke="#000" stroke-width="2"/>
</g>
<g shape-rendering="crispEdges" fill="none" stroke="#000">
<rect x="136" y="157" width="632" height="316" stroke-width="2"/>
<path d="M148 472V468M148 158V162" stroke-width="1"/>
<path d="M161 472V468M161 158V162" stroke-width="1"/>
<path d="M173 472V468M173 158V162" stroke-width="1"/>
<path d="M186 472V468M186 158V162" stroke-width="1"/>
<path d="M199 472V463M199 158V167" stroke-width="2"/>
<path d="M211 472V468M211 158V162" stroke-width="1"/>
<path d="M224 472V468M224 158V162" stroke-width="1"/>
<path d="M237 472V468M237 158V162" stroke-width="1"/>
<path d="M249 472V468M249 158V162" stroke-width="1"/>
<path d="M262 472V463M262 158V167" stroke-width="2"/>
<path d="M275 472V468M275 158V162" stroke-width="1"/>
<path d="M287 472V468M287 158V162" stroke-width="1"/>
<path d="M300 472V468M300 158V162" stroke-width="1"/>
<path d="M313 472V468M313 158V162" stroke-width="1"/>
<path d="M326 472V463M326 158V167" stroke-width="2"/>
<path d="M338 472V468M338 158V162" stroke-width="1"/>
<path d="M351 472V468M351 158V162" stroke-width="1"/>
<path d="M364 472V468M364 158V162" stroke-width="1"/>
<path d="M376 472V468M376 158V162" stroke-width="1"/>
<path d="M389 472V463M389 158V167" stroke-width="2"/>
<path d="M402 472V468M402 158V162" stroke-width="1"/>
<path d="M414 472V468M414 158V162" stroke-width="1"/>
<path d="M427 472V468M427 158V162" stroke-width="1"/>
<path d="M440 472V468M440 158V162" stroke-width="1"/>
<path d="M452 472V463M452 158V167" stroke-width="2"/>
<path d="M465 472V468M465 158V162" stroke-width="1"/>
<path d="M478 472V468M478 158V162" stroke-width="1"/>
<path d="M491 472V468M491 158V162" stroke-width="1"/>
<path d="M503 472V468M503 158V162" stroke-width="1"/>
<path d="M516 472V463M516 158V167" stroke-width="2"/>
<path d="M529 472V468M529 158V162" stroke-width="1"/>
<path d="M541 472V468M541 158V162" stroke-width="1"/>
<path d="M554 472V468M554 158V162" stroke-width="1"/>
<path d="M567 472V468M567 158V162" stroke-width="1"/>
<path d="M579 472V463M579 158V167" stroke-width="2"/>
<path d="M592 472V468M592 158V162" stroke-width="1"/>
<path d="M605 472V468M605 158V162" stroke-width="1"/>
<path d="M617 472V468M617 158V162" stroke-width="1"/>
<path d="M630 472V468M630 158V162" stroke-width="1"/>
<path d="M643 472V463M643 158V167" stroke-width="2"/>
<path d="M655 472V468M655 158V162" stroke-width="1"/>
<path d="M668 472V468M668 158V162" stroke-width="1"/>
<path d="M681 472V468M681 158V162" stroke-width="1"/>
<path d="M694 472V468M694 158V162" stroke-width="1"/>
<path d="M706 472V463M706 158V167" stroke-width="2"/>
<path d="M719 472V468M719 158V162" stroke-width="1"/>
<path d="M732 472V468M732 158V162" stroke-width="1"/>
<path d="M744 472V468M744 158V162" stroke-width="1"/>
<path d="M757 472V468M757 158V162" stroke-width="1"/>
<path d="M137 453H141M767 453H763" stroke-width="1"/>
<path d="M137 433H141M767 433H763" stroke-width="1"/>
<path d="M137 413H141M767 413H763" stroke-width="1"/>
<path d="M137 394H146M767 394H758" stroke-width="2"/>
<path d="M137 374H141M767 374H763" stroke-width="1"/>
<path d="M137 354H141M767 354H763" stroke-width="1"/>
<path d="M137 334H141M767 334H763" stroke-width="1"/>
<path d="M137 315H146M767 315H758" stroke-width="2"/>
<path d="M137 295H141M767 295H763" stroke-width="1"/>
<path d="M137 275H141M767 275H763" stroke-width="1"/>
<path d="M137 255H141M767 255H763" stroke-width="1"/>
<path d="M137 236H146M767 236H758" stroke-width="2"/>
<path d="M137 216H141M767 216H763" stroke-width="1"/>
<path d="M137 196H141M767 196H763" stroke-width="1"/>
<path d="M137 176H141M767 176H763" stroke-width="1"/>
</g>
<g shape-rendering="crispEdges">
<rect x="784" y="247" width="18" height="23" fill="#FF2020"/>
<rect x="784" y="270" width="18" height="22" fill="#FF5500"/>
<rect x="784" y="292" width="18" height="23" fill="#FFA500"/>
<rect x="784" y="315" width="18" height="22" fill="#FFFF00"/>
<rect x="784" y="337" width="18" height="23" fill="#80FF00"/>
<rect x="784" y="360" width="18" height="23" fill="#00F080"/>
<rect x="784" y="383" width="18" height="22" fill="#00FFFF"/>
<rect x="784" y="405" width="18" height="23" fill="#0055F0"/>
<rect x="784" y="428" width="18" height="22" fill="#0000AA"/>
<rect x="784" y="450" width="18" height="23" fill="#3300AA"/>
<rect x="783" y="246" width="20" height="2" fill="#000"/>
<rect x="783" y="269" width="20" height="2" fill="#000"/>
<rect x="783" y="291" width="20" height="2" fill="#000"/>
<rect x="783" y="314" width="20" height="2" fill="#000"/>
<rect x="783" y="336" width="20" height="2" fill="#000"/>
<rect x="783" y="359" width="20" height="2" fill="#000"/>
<rect x="783" y="382" width="20" height="2" fill="#000"/>
<rect x="783" y="404" width="20" height="2" fill="#000"/>
<rect x="783" y="427" width="20" height="2" fill="#000"/>
<rect x="783" y="449" width="20" height="2" fill="#000"/>
<rect x="783" y="472" width="20" height="2" fill="#000"/>
<rect x="783" y="246" width="2" height="228" fill="#000"/><rect x="801" y="246" width="2" height="228" fill="#000"/>
</g>
<path d="M784 247 L793 207 L802 247 Z" fill="#FFAAAA" stroke="#000" stroke-width="2" stroke-linejoin="miter"/>
<path d="M784 473 L793 514 L802 473 Z" fill="#8000A8" stroke="#000" stroke-width="2" stroke-linejoin="miter"/>
<g font-family="Liberation Sans, sans-serif" fill="#000">
<text x="335.8" y="112.4" font-size="28.8" textLength="142.6" lengthAdjust="spacingAndGlyphs" text-anchor="start" stroke="#fff" stroke-width="0.7">Saturation</text>
<text x="499" y="112.4" font-size="28.8" textLength="68.8" lengthAdjust="spacingAndGlyphs" text-anchor="start" stroke="#fff" stroke-width="0.7">Ratio</text>
<text x="47.9" y="134.75" font-size="16" textLength="51.2" lengthAdjust="spacingAndGlyphs" text-anchor="start" stroke="#000" stroke-width="0.25">(x1E4</text>
<text x="109.1" y="134.75" font-size="16" textLength="22.5" lengthAdjust="spacingAndGlyphs" text-anchor="start" stroke="#000" stroke-width="0.25">m)</text>
<text x="690" y="517.5" font-size="16.3" textLength="51.9" lengthAdjust="spacingAndGlyphs" text-anchor="start" stroke="#000" stroke-width="0.25">(x1E4</text>
<text x="751.9" y="517.5" font-size="16.3" textLength="22.5" lengthAdjust="spacingAndGlyphs" text-anchor="start" stroke="#000" stroke-width="0.25">m)</text>
<text x="778.3" y="169" font-size="16.5" textLength="118.7" lengthAdjust="spacingAndGlyphs" text-anchor="start" stroke="#fff" stroke-width="0.3">t=2.3904e+06</text>
<text x="379.3" y="546.4" font-size="22.6" textLength="13.2" lengthAdjust="spacingAndGlyphs" text-anchor="start" stroke="#fff" stroke-width="0.3">X</text>
<text x="406.25" y="546.4" font-size="22.6" textLength="119.75" lengthAdjust="spacingAndGlyphs" text-anchor="start" stroke="#fff" stroke-width="0.3">coordinate</text>
<text x="305" y="592.5" font-size="17.8" textLength="79.5" lengthAdjust="spacingAndGlyphs" text-anchor="start" stroke="#000" stroke-width="0.25">CONTOUR</text>
<text x="394.5" y="592.5" font-size="17.8" textLength="76" lengthAdjust="spacingAndGlyphs" text-anchor="start" stroke="#000" stroke-width="0.25">INTERVAL</text>
<text x="481" y="592.5" font-size="17.8" textLength="12" lengthAdjust="spacingAndGlyphs" text-anchor="start" stroke="#000" stroke-width="0.25">=</text>
<text x="503.75" y="592.5" font-size="17.8" textLength="94.25" lengthAdjust="spacingAndGlyphs" text-anchor="start" stroke="#000" stroke-width="0.25">2.000E−01</text>
<text transform="translate(99.8,388) rotate(-90)" font-size="22.6" textLength="13.2" lengthAdjust="spacingAndGlyphs" stroke="#fff" stroke-width="0.3">Z</text>
<text transform="translate(99.8,361.5) rotate(-90)" font-size="22.6" textLength="119.5" lengthAdjust="spacingAndGlyphs" stroke="#fff" stroke-width="0.3">coordinate</text>
<text x="194" y="494.5" font-size="16" textLength="10" lengthAdjust="spacingAndGlyphs" text-anchor="start" stroke="#000" stroke-width="0.25">1</text>
<text x="257" y="494.5" font-size="16" textLength="10" lengthAdjust="spacingAndGlyphs" text-anchor="start" stroke="#000" stroke-width="0.25">2</text>
<text x="321" y="494.5" font-size="16" textLength="10" lengthAdjust="spacingAndGlyphs" text-anchor="start" stroke="#000" stroke-width="0.25">3</text>
<text x="384" y="494.5" font-size="16" textLength="10" lengthAdjust="spacingAndGlyphs" text-anchor="start" stroke="#000" stroke-width="0.25">4</text>
<text x="447" y="494.5" font-size="16" textLength="10" lengthAdjust="spacingAndGlyphs" text-anchor="start" stroke="#000" stroke-width="0.25">5</text>
<text x="511" y="494.5" font-size="16" textLength="10" lengthAdjust="spacingAndGlyphs" text-anchor="start" stroke="#000" stroke-width="0.25">6</text>
<text x="574" y="494.5" font-size="16" textLength="10" lengthAdjust="spacingAndGlyphs" text-anchor="start" stroke="#000" stroke-width="0.25">7</text>
<text x="638" y="494.5" font-size="16" textLength="10" lengthAdjust="spacingAndGlyphs" text-anchor="start" stroke="#000" stroke-width="0.25">8</text>
<text x="701" y="494.5" font-size="16" textLength="10" lengthAdjust="spacingAndGlyphs" text-anchor="start" stroke="#000" stroke-width="0.25">9</text>
<text x="116.7" y="239.8" font-size="16" textLength="10" lengthAdjust="spacingAndGlyphs" text-anchor="start" stroke="#000" stroke-width="0.25">6</text>
<text x="116.7" y="320.3" font-size="16" textLength="10" lengthAdjust="spacingAndGlyphs" text-anchor="start" stroke="#000" stroke-width="0.25">4</text>
<text x="116.7" y="399.8" font-size="16" textLength="10" lengthAdjust="spacingAndGlyphs" text-anchor="start" stroke="#000" stroke-width="0.25">2</text>
<text x="812" y="274.8" font-size="16" textLength="33" lengthAdjust="spacingAndGlyphs" text-anchor="start" stroke="#000" stroke-width="0.25">1.08</text>
<text x="812" y="320.3" font-size="16" textLength="33" lengthAdjust="spacingAndGlyphs" text-anchor="start" stroke="#000" stroke-width="0.25">1.04</text>
<text x="812" y="365.8" font-size="16" text-anchor="start" stroke="#000" stroke-width="0.25">1</text>
<text x="812" y="410.8" font-size="16" textLength="33" lengthAdjust="spacingAndGlyphs" text-anchor="start" stroke="#000" stroke-width="0.25">0.96</text>
<text x="812" y="455.8" font-size="16" textLength="33" lengthAdjust="spacingAndGlyphs" text-anchor="start" stroke="#000" stroke-width="0.25">0.92</text>
<text x="313.75" y="252.75" font-size="20" textLength="37" lengthAdjust="spacingAndGlyphs" text-anchor="start" stroke="#000" stroke-width="0.4">0.40</text>
<text x="340" y="280" font-size="16.5" textLength="38" lengthAdjust="spacingAndGlyphs" text-anchor="start" stroke="#000" stroke-width="0.4">0.80</text>
<text x="340.6" y="409.8" font-size="17.5" textLength="37.5" lengthAdjust="spacingAndGlyphs" text-anchor="start" stroke="#000" stroke-width="0.4">0.80</text>
<text x="340.6" y="421.5" font-size="16" textLength="37.5" lengthAdjust="spacingAndGlyphs" text-anchor="start" stroke="#000" stroke-width="0.4">0.40</text>
</g>
</svg>
</body></html>
